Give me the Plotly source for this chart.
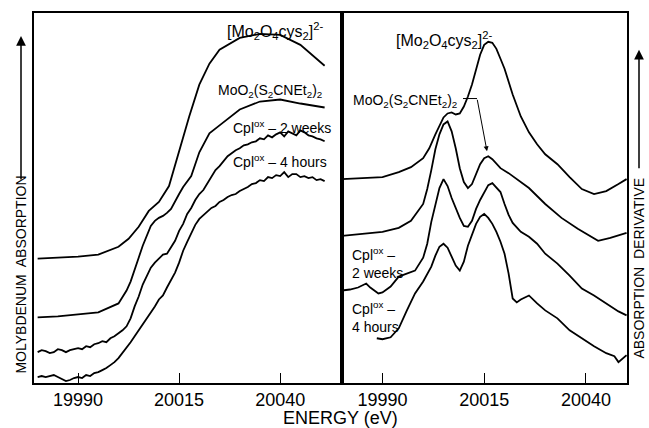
import plotly.graph_objects as go

# ---------------- Left panel: Mo K-edge absorption (arbitrary units, stacked) -------------
L_mo2o4_x = [19980, 19985, 19990, 19995, 20000, 20002.5, 20005, 20007.5, 20010, 20012.5,
             20015, 20017.5, 20020, 20022.5, 20025, 20030, 20035, 20040, 20045, 20050, 20051]
L_mo2o4_y = [125, 126, 127, 129, 137, 145, 157, 173, 182, 198,
             233, 268, 300, 321, 335, 347, 351, 350, 340, 323, 319]

L_moo2_x = [19980, 19985, 19990, 19995, 20000, 20002, 20003, 20004, 20005, 20006, 20007, 20008,
            20009, 20010, 20011, 20012, 20013, 20014, 20015, 20016, 20017, 20018, 20020,
            20022.5, 20025, 20030, 20035, 20040, 20045, 20050, 20051]
L_moo2_y = [66, 67, 69, 71, 80, 93, 102, 115, 126, 138, 149, 158,
            163, 166, 168, 171, 175, 183, 190, 197, 203, 208, 232,
            251, 259, 275, 283, 285, 281, 278, 277]

L_2wk_x = list(range(19980, 20052))
L_2wk_y = [31, 33, 32, 30, 31, 34, 33, 31, 33, 34,
           35, 34, 37, 36, 39, 40, 42, 41, 45, 47,
           50, 53, 57, 65, 77, 87, 99, 108, 116, 121,
           125, 129, 130, 136, 143, 153, 160, 170, 176, 184,
           190, 194, 201, 207, 214, 218, 223, 228, 231, 234,
           236, 239, 240, 242, 243, 246, 245, 249, 247, 250,
           252, 248, 253, 251, 249, 254, 252, 249, 248, 246,
           245, 243]

L_4hr_x = list(range(19980, 20052))
L_4hr_y = [6, 7, 6, 7, 8, 6, 4, 2, 3, 5,
           6, 5, 8, 7, 10, 11, 13, 15, 18, 21,
           25, 30, 35, 41, 47, 53, 59, 64, 71, 77,
           84, 88, 96, 103, 111, 121, 133, 142, 151, 159,
           165, 169, 172, 176, 178, 182, 184, 187, 189, 190,
           193, 195, 197, 200, 201, 204, 203, 207, 206, 209,
           208, 212, 207, 210, 210, 207, 208, 206, 207, 204,
           205, 203]

# ---------------- Right panel: absorption derivative (arbitrary units, stacked) -----------
R_mo2o4_x = [19980, 19985, 19990, 19994, 19997, 20000, 20001.5, 20003, 20004, 20005, 20006, 20007,
             20008, 20009, 20010, 20011, 20012, 20013, 20014, 20015, 20016, 20017, 20018, 20019,
             20020, 20022, 20024, 20026, 20028, 20030, 20033, 20036, 20039, 20042, 20045, 20048,
             20050]
R_mo2o4_y = [205, 206, 207, 212, 217, 226, 236, 250, 259, 267, 271, 272,
             270, 271, 278, 288, 300, 315, 330, 340, 343, 342, 336, 326,
             316, 290, 268, 252, 240, 230, 220, 207, 195, 190, 193, 200,
             205]

R_moo2_x = [19980, 19985, 19990, 19994, 19997, 20000, 20001, 20002, 20003, 20004, 20005, 20006,
            20007, 20008, 20009, 20010, 20011, 20012, 20013, 20014, 20015, 20016, 20017, 20018,
            20019, 20021, 20023, 20026, 20030, 20034, 20038, 20043, 20046, 20050]
R_moo2_y = [148, 150, 152, 156, 163, 180, 195, 214, 235, 250, 260, 263,
            253, 236, 216, 202, 196, 200, 211, 220, 226, 228, 225, 220,
            216, 211, 205, 196, 180, 166, 155, 143, 146, 151]

R_2wk_x = [19980, 19982, 19984, 19986, 19987, 19988, 19989, 19990, 19992, 19994, 19996, 19998,
           20000, 20001, 20002, 20003, 20004, 20005, 20006, 20007, 20008, 20009, 20010, 20011,
           20012, 20013, 20014, 20015, 20016, 20017, 20018, 20019, 20020, 20021, 20022, 20024,
           20026, 20028, 20030, 20033, 20036, 20039, 20042, 20045, 20048, 20050]
R_2wk_y = [93, 94, 96, 100, 96, 93, 90, 91, 97, 107, 110, 113,
           126, 140, 162, 180, 196, 205, 198, 186, 175, 166, 158, 157,
           163, 175, 184, 192, 199, 201, 197, 192, 180, 169, 161, 152,
           147, 140, 130, 120, 108, 95, 88, 80, 72, 68]

R_4hr_x = [19988.6, 19990, 19992, 19994, 19996, 19998, 20000, 20002, 20003, 20004, 20005, 20006,
           20007, 20008, 20009, 20010, 20011, 20012, 20013, 20014, 20015, 20016, 20017, 20018,
           20019, 20020, 20021, 20022, 20023, 20024, 20026, 20028, 20030, 20033, 20036, 20039,
           20042, 20045, 20047, 20048, 20049, 20050]
R_4hr_y = [45, 44, 46, 55, 73, 90, 102, 117, 128, 137, 140, 136,
           127, 118, 113, 122, 138, 150, 160, 167, 170, 166, 160, 152,
           142, 130, 110, 85, 81, 84, 88, 80, 73, 65, 53, 45,
           37, 30, 27, 21, 25, 28]

TICKS = [19990, 20015, 20040]

FONT = "Liberation Sans"
LINE = dict(color="black", width=1.8)

fig = go.Figure()
for xs, ys in [(L_mo2o4_x, L_mo2o4_y), (L_moo2_x, L_moo2_y), (L_2wk_x, L_2wk_y), (L_4hr_x, L_4hr_y)]:
    fig.add_trace(go.Scatter(x=xs, y=ys, mode="lines", line=LINE, xaxis="x", yaxis="y",
                             showlegend=False, hoverinfo="skip"))
for xs, ys in [(R_mo2o4_x, R_mo2o4_y), (R_moo2_x, R_moo2_y), (R_2wk_x, R_2wk_y), (R_4hr_x, R_4hr_y)]:
    fig.add_trace(go.Scatter(x=xs, y=ys, mode="lines", line=LINE, xaxis="x2", yaxis="y2",
                             showlegend=False, hoverinfo="skip"))

split = (342 - 34) / (627 - 34)
axis_common = dict(showline=True, linecolor="black", linewidth=1.5, mirror=True,
                   ticks="inside", ticklen=10, tickwidth=1, tickcolor="black",
                   tickvals=TICKS, ticktext=[str(t) for t in TICKS],
                   tickfont=dict(family=FONT, size=18, color="black"),
                   showgrid=False, zeroline=False)
yaxis_common = dict(showline=True, linecolor="black", linewidth=1.5, mirror=True,
                    showticklabels=False, ticks="", showgrid=False, zeroline=False,
                    range=[0, 372])

fig.update_layout(
    width=649, height=428,
    margin=dict(l=34, r=22, t=11, b=45),
    paper_bgcolor="white", plot_bgcolor="white",
    xaxis=dict(domain=[0, split], range=[19979.1, 20055.3], anchor="y", **axis_common),
    xaxis2=dict(domain=[split, 1], range=[19980.05, 20050.1], anchor="y2", **axis_common),
    yaxis=dict(domain=[0, 1], anchor="x", **yaxis_common),
    yaxis2=dict(domain=[0, 1], anchor="x2", **yaxis_common),
    font=dict(family=FONT, color="black"),
)

def px_x(px):
    return (px - 34) / (627 - 34)

def px_y(py):
    return (383 - py) / (383 - 11)

ann = [
    dict(text="[Mo<sub>2</sub>O<sub>4</sub>cys<sub>2</sub>]<sup>2-</sup>", x=px_x(275), y=px_y(29), size=16),
    dict(text="MoO<sub>2</sub>(S<sub>2</sub>CNEt<sub>2</sub>)<sub>2</sub>", x=px_x(270), y=px_y(89), size=14),
    dict(text="Cpl<sup>ox</sup> – 2 weeks", x=px_x(282), y=px_y(126), size=14),
    dict(text="Cpl<sup>ox</sup> – 4 hours", x=px_x(280), y=px_y(160), size=14),
    dict(text="[Mo<sub>2</sub>O<sub>4</sub>cys<sub>2</sub>]<sup>2-</sup>", x=px_x(444), y=px_y(38), size=16),
    dict(text="MoO<sub>2</sub>(S<sub>2</sub>CNEt<sub>2</sub>)<sub>2</sub>", x=px_x(405), y=px_y(99), size=14),
    dict(text="Cpl<sup>ox</sup> –<br>2 weeks", x=px_x(377), y=px_y(262), size=14, align="left"),
    dict(text="Cpl<sup>ox</sup> –<br>4 hours", x=px_x(375), y=px_y(317), size=14, align="left"),
    dict(text="ENERGY (eV)", x=px_x(340), y=px_y(418), size=18),
]
for a in ann:
    fig.add_annotation(xref="paper", yref="paper", x=a["x"], y=a["y"], text=a["text"],
                       showarrow=False, xanchor="center", yanchor="middle",
                       align=a.get("align", "center"),
                       font=dict(family=FONT, size=a["size"], color="black"))

# vertical axis titles with long upward arrows
fig.add_annotation(xref="paper", yref="paper", x=px_x(21), y=px_y(274), text="MOLYBDENUM  ABSORPTION",
                   textangle=-90, showarrow=False, xanchor="center", yanchor="middle",
                   font=dict(family=FONT, size=14, color="black"))
fig.add_annotation(xref="paper", yref="paper", x=px_x(21), y=px_y(34), ax=0, ay=145,
                   axref="pixel", ayref="pixel", text="", showarrow=True, arrowhead=2,
                   arrowsize=1.3, arrowwidth=1.5, arrowcolor="black")
fig.add_annotation(xref="paper", yref="paper", x=px_x(639), y=px_y(268), text="ABSORPTION  DERIVATIVE",
                   textangle=-90, showarrow=False, xanchor="center", yanchor="middle",
                   font=dict(family=FONT, size=14, color="black"))
fig.add_annotation(xref="paper", yref="paper", x=px_x(639), y=px_y(48), ax=0, ay=120,
                   axref="pixel", ayref="pixel", text="", showarrow=True, arrowhead=2,
                   arrowsize=1.3, arrowwidth=1.5, arrowcolor="black")
# pointer from the MoO2 label to its second derivative peak
fig.add_annotation(xref="paper", yref="paper", x=px_x(487), y=px_y(150), ax=-10, ay=-53,
                   axref="pixel", ayref="pixel", text="", showarrow=True, arrowhead=2,
                   arrowsize=1, arrowwidth=1, arrowcolor="black")
fig.add_shape(type="line", xref="paper", yref="paper", x0=px_x(463), y0=px_y(97), x1=px_x(477), y1=px_y(97),
              line=dict(color="black", width=1))

# remove the page's default body margin so the 649x428 figure fills the window exactly
fig.write_html("out.html",
               config={"displayModeBar": False},
               post_script="document.body.style.margin='0';document.body.style.overflow='hidden';")
